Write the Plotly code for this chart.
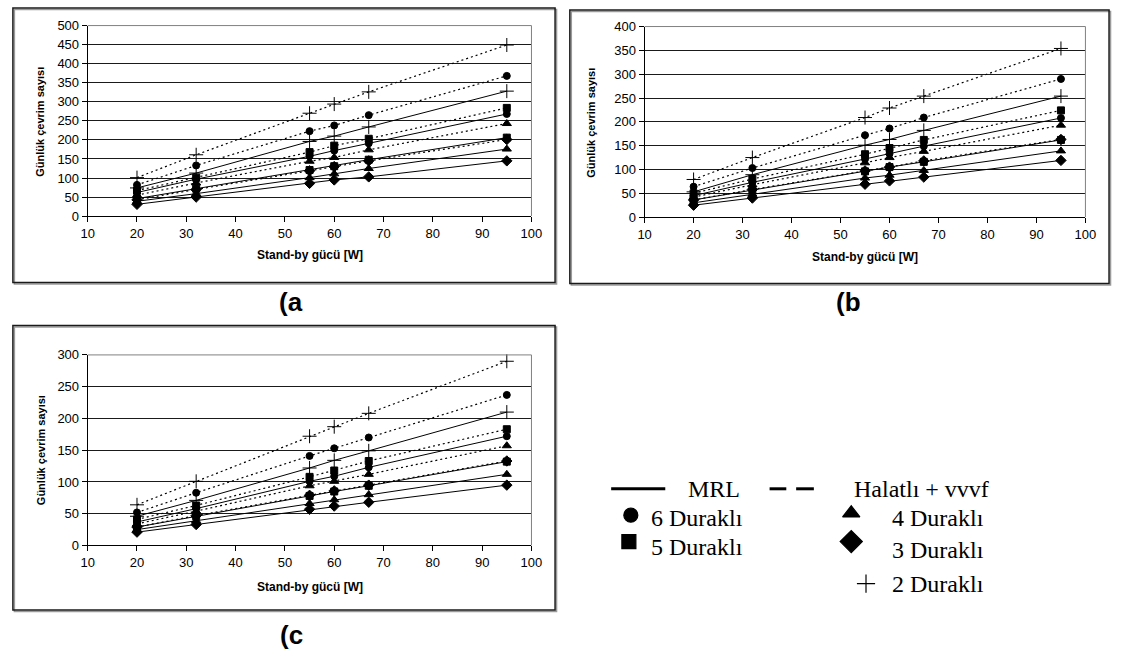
import plotly.graph_objects as go

W, H = 1123, 660

# ---------------- data ----------------
x_power = [20, 32, 55, 60, 67, 95]          # Stand-by gücü [W]
x_ticks = [10, 20, 30, 40, 50, 60, 70, 80, 90, 100]

# panel (a)
a_mrl_2 = [74, 113, 196, 210, 234, 328]
a_mrl_6 = [62, 97, 157, 172, 191, 268]
a_mrl_5 = [46, 72, 121, 131, 148, 206]
a_mrl_4 = [39, 59, 101, 111, 125, 176]
a_mrl_3 = [31, 50, 86, 95, 103, 145]
a_hal_2 = [101, 161, 270, 294, 326, 449]
a_hal_6 = [82, 133, 223, 238, 265, 368]
a_hal_5 = [67, 101, 168, 185, 203, 284]
a_hal_4 = [55, 87, 144, 154, 174, 243]
a_hal_3 = [43, 70, 119, 130, 145, 201]

# panel (b)
b_mrl_2 = [53, 89, 151, 163, 182, 254]
b_mrl_6 = [45, 73, 122, 133, 149, 208]
b_mrl_5 = [36, 57, 96, 105, 116, 162]
b_mrl_4 = [30, 48, 82, 88, 98, 139]
b_mrl_3 = [25, 40, 69, 76, 84, 119]
b_hal_2 = [79, 125, 209, 229, 254, 354]
b_hal_6 = [64, 103, 172, 186, 209, 290]
b_hal_5 = [50, 80, 132, 145, 162, 224]
b_hal_4 = [42, 68, 114, 125, 138, 193]
b_hal_3 = [36, 58, 97, 105, 118, 163]

# panel (c)
c_mrl_2 = [46, 71, 122, 134, 149, 210]
c_mrl_6 = [37, 58, 101, 109, 123, 172]
c_mrl_5 = [29, 46, 78, 85, 94, 132]
c_mrl_4 = [25, 39, 66, 72, 80, 112]
c_mrl_3 = [21, 33, 57, 62, 68, 95]
c_hal_2 = [64, 101, 172, 187, 208, 290]
c_hal_6 = [52, 83, 141, 153, 170, 237]
c_hal_5 = [41, 63, 108, 118, 133, 183]
c_hal_4 = [34, 54, 94, 101, 112, 157]
c_hal_3 = [29, 47, 79, 86, 95, 133]

stop_labels = ["2 Duraklı", "6 Duraklı", "5 Duraklı", "4 Duraklı", "3 Duraklı"]
symbols = ["cross-thin", "circle", "square", "triangle-up", "diamond"]
msizes = [10, 7, 7, 8, 8]

panels = [
    ("x", "y", [a_mrl_2, a_mrl_6, a_mrl_5, a_mrl_4, a_mrl_3],
               [a_hal_2, a_hal_6, a_hal_5, a_hal_4, a_hal_3]),
    ("x2", "y2", [b_mrl_2, b_mrl_6, b_mrl_5, b_mrl_4, b_mrl_3],
                 [b_hal_2, b_hal_6, b_hal_5, b_hal_4, b_hal_3]),
    ("x3", "y3", [c_mrl_2, c_mrl_6, c_mrl_5, c_mrl_4, c_mrl_3],
                 [c_hal_2, c_hal_6, c_hal_5, c_hal_4, c_hal_3]),
]
y_max = [500, 400, 300]

# ---------------- layout helpers ----------------
def px(x):
    return x / W

def py(y):
    return 1 - y / H

# plot area rectangles in pixels (left, top, right, bottom)
areas = [(82, 19, 533, 214), (648, 20, 1096, 215), (82, 356, 533, 551)]
boxes = [(6, 1, 557, 282), (572, 3, 1120, 283), (6, 326, 557, 617)]

fig = go.Figure()

for (xa, ya, mrl, hal) in panels:
    for vals, sym, ms, name in zip(hal, symbols, msizes, stop_labels):
        fig.add_trace(go.Scatter(
            x=x_power, y=vals, xaxis=xa, yaxis=ya, mode="lines+markers",
            line=dict(color="black", width=1.2, dash="2px,3px"),
            marker=dict(symbol=sym, size=ms, color="black",
                        line=dict(color="black", width=1)),
            name="Halatlı + vvvf " + name, showlegend=False, cliponaxis=False))
    for vals, sym, ms, name in zip(mrl, symbols, msizes, stop_labels):
        fig.add_trace(go.Scatter(
            x=x_power, y=vals, xaxis=xa, yaxis=ya, mode="lines+markers",
            line=dict(color="black", width=1),
            marker=dict(symbol=sym, size=ms, color="black",
                        line=dict(color="black", width=1)),
            name="MRL " + name, showlegend=False, cliponaxis=False))

tick_font = dict(family="Arial, Liberation Sans, sans-serif", size=13, color="black")
title_font = dict(family="Arial, Liberation Sans, sans-serif", size=12, color="black")

axis_common_x = dict(range=[10, 100], tickvals=x_ticks, showgrid=False,
                     showline=True, linecolor="black", linewidth=1,
                     ticks="outside", ticklen=5, tickcolor="black",
                     tickfont=tick_font, zeroline=False, fixedrange=True)

layout = dict(width=W, height=H, margin=dict(l=0, r=0, t=0, b=0),
              paper_bgcolor="white", plot_bgcolor="rgba(0,0,0,0)",
              showlegend=False)

names = ["", "2", "3"]
for i, ((l, t, r, b), ym) in enumerate(zip(areas, y_max)):
    n = names[i]
    layout["xaxis" + n] = dict(axis_common_x, domain=[px(l), px(r)],
                               anchor="y" + n)
    layout["yaxis" + n] = dict(range=[0, ym], dtick=50, domain=[py(b), py(t)],
                               anchor="x" + n, showgrid=True,
                               gridcolor="#1a1a1a", gridwidth=1,
                               showline=True, linecolor="black", linewidth=1,
                               ticks="outside", ticklen=5, tickcolor="black",
                               tickfont=tick_font, zeroline=False,
                               fixedrange=True)

# overlay pixel axis for legend markers (transparent)
layout["xaxis4"] = dict(domain=[px(590), px(1110)], range=[590, 1110],
                        visible=False, anchor="y4", fixedrange=True)
layout["yaxis4"] = dict(domain=[py(625), py(445)], range=[625, 445],
                        visible=False, anchor="x4", fixedrange=True)

fig.update_layout(**layout)

shapes = []
annotations = []

# outer boxes with a soft shadow
for (l, t, r, b) in boxes:
    shapes.append(dict(type="rect", xref="paper", yref="paper",
                       x0=px(l + 1.5), x1=px(r + 1.5), y0=py(b + 1.5), y1=py(t + 1.5),
                       line=dict(color="#9a9a9a", width=1.5), layer="below"))
    shapes.append(dict(type="rect", xref="paper", yref="paper",
                       x0=px(l), x1=px(r), y0=py(b), y1=py(t),
                       line=dict(color="#1a1a1a", width=1.5), layer="below"))

# grey plot-area frame (top and right)
for (l, t, r, b) in areas:
    shapes.append(dict(type="line", xref="paper", yref="paper",
                       x0=px(l), x1=px(r), y0=py(t), y1=py(t),
                       line=dict(color="#808080", width=1)))
    shapes.append(dict(type="line", xref="paper", yref="paper",
                       x0=px(r), x1=px(r), y0=py(t), y1=py(b),
                       line=dict(color="#808080", width=1)))

# axis titles
xt_pos = [(307.5, 254), (872, 256), (307.5, 593)]
yt_pos = [(34, 117), (594, 118), (34, 453)]
for (xx, yy) in xt_pos:
    annotations.append(dict(x=px(xx), y=py(yy), xref="paper", yref="paper",
                            text="<b>Stand-by gücü [W]</b>", showarrow=False,
                            font=title_font, xanchor="center", yanchor="middle"))
for (xx, yy) in yt_pos:
    annotations.append(dict(x=px(xx), y=py(yy), xref="paper", yref="paper",
                            text="<b>Günlük çevrim sayısı</b>", showarrow=False,
                            font=dict(title_font, size=11), textangle=-90,
                            xanchor="center", yanchor="middle"))

# panel labels
panel_font = dict(family="Arial, Liberation Sans, sans-serif", size=26, color="black")
for txt, (xx, yy) in zip(["(a", "(b", "(c"], [(289, 302), (855, 302), (289, 643)]):
    annotations.append(dict(x=px(xx), y=py(yy), xref="paper", yref="paper",
                            text="<b>" + txt + "</b>", showarrow=False,
                            font=panel_font, xanchor="center", yanchor="middle"))

# custom legend
leg_font = dict(family="Times New Roman, Liberation Serif, serif", size=24, color="black")
row1 = 493
shapes.append(dict(type="line", xref="paper", yref="paper",
                   x0=px(614), x1=px(669), y0=py(row1), y1=py(row1),
                   line=dict(color="black", width=3)))
for (d0, d1) in [(775, 792), (802, 820)]:
    shapes.append(dict(type="line", xref="paper", yref="paper",
                       x0=px(d0), x1=px(d1), y0=py(row1), y1=py(row1),
                       line=dict(color="black", width=3)))
leg_texts = [("MRL", 691, row1), ("Halatlı + vvvf", 860, row1),
             ("6 Duraklı", 653, 523), ("5 Duraklı", 653, 553),
             ("4 Duraklı", 898, 523), ("3 Duraklı", 898, 556),
             ("2 Duraklı", 898, 590)]
for txt, xx, yy in leg_texts:
    annotations.append(dict(x=px(xx), y=py(yy), xref="paper", yref="paper",
                            text=txt, showarrow=False, font=leg_font,
                            borderpad=0, xanchor="left", yanchor="middle"))

leg_sym = ["circle", "square", "triangle-up", "diamond", "cross-thin"]
leg_x = [634, 632, 858, 858, 873]
leg_y = [520, 547, 518, 547, 590]
leg_size = [14, 14, 15, 17, 13]
fig.add_trace(go.Scatter(
    x=leg_x, y=leg_y, xaxis="x4", yaxis="y4", mode="markers",
    marker=dict(symbol=leg_sym, size=leg_size, color="black", opacity=1,
                line=dict(color="black", width=1.2)),
    showlegend=False, hoverinfo="skip"))

fig.update_layout(shapes=shapes, annotations=annotations)
fig.write_html("out.html",
               config={"displayModeBar": False},
               post_script="document.body.style.margin='0px';")
